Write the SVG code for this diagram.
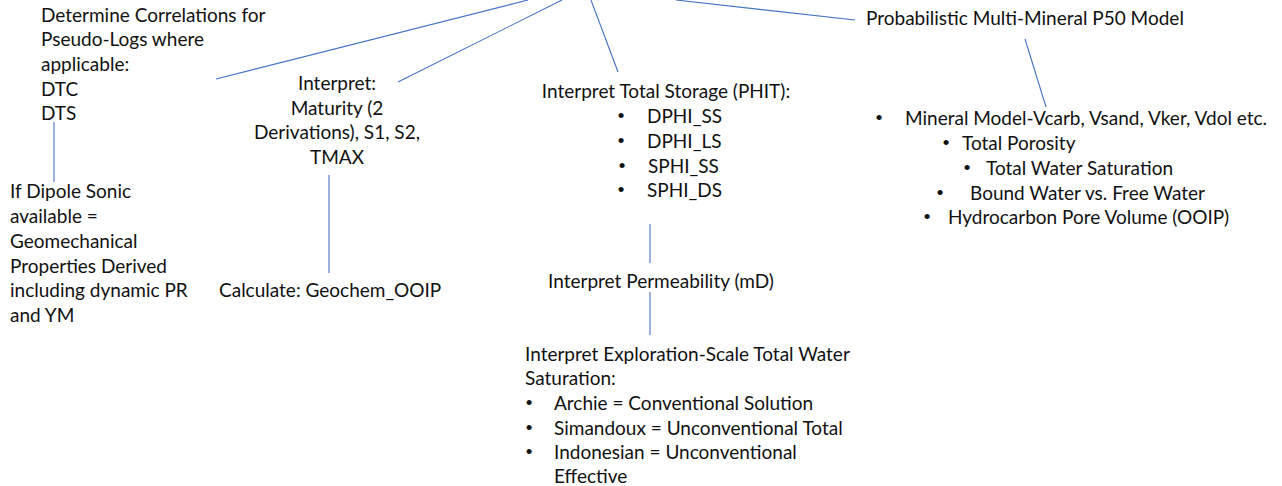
<svg xmlns="http://www.w3.org/2000/svg" width="1282" height="486" viewBox="0 0 1282 486">
  <style>
    .t { font-family: Lato, "Liberation Sans", sans-serif; font-size: 19px; fill: #111; }
    .c { text-anchor: middle; }
    .b { font-family: "Liberation Sans", sans-serif; font-size: 19px; fill: #111; text-anchor: middle; }
    .link { stroke: #4472c4; stroke-width: 1.1; fill: none; }
  </style>
  <rect width="1282" height="486" fill="#fff"/>

  <g id="connectors">
    <line class="link" x1="216" y1="79" x2="528" y2="0"/>
    <line class="link" x1="398" y1="82" x2="562" y2="0"/>
    <line class="link" x1="591" y1="0" x2="618" y2="72"/>
    <line class="link" x1="676" y1="0" x2="855" y2="20"/>
    <line class="link" x1="1025" y1="39" x2="1046" y2="107"/>
    <line class="link" x1="54" y1="122" x2="54" y2="182"/>
    <line class="link" x1="329" y1="175" x2="329" y2="273"/>
    <line class="link" x1="650" y1="224" x2="650" y2="263"/>
    <line class="link" x1="650" y1="292" x2="650" y2="335"/>
  </g>

  <g id="node-pseudo-logs">
    <text class="t" x="41" y="22">Determine Correlations for</text>
    <text class="t" x="41" y="46">Pseudo-Logs where</text>
    <text class="t" x="41" y="71">applicable:</text>
    <text class="t" x="41" y="96">DTC</text>
    <text class="t" x="41" y="120">DTS</text>
  </g>

  <g id="node-geomechanics">
    <text class="t" x="10" y="198">If Dipole Sonic</text>
    <text class="t" x="10" y="223">available =</text>
    <text class="t" x="10" y="248">Geomechanical</text>
    <text class="t" x="10" y="273">Properties Derived</text>
    <text class="t" x="10" y="297">including dynamic PR</text>
    <text class="t" x="10" y="322">and YM</text>
  </g>

  <g id="node-geochem">
    <text class="t c" x="337" y="90">Interpret:</text>
    <text class="t c" x="337" y="115">Maturity (2</text>
    <text class="t c" x="337" y="139">Derivations), S1, S2,</text>
    <text class="t c" x="337" y="164">TMAX</text>
  </g>

  <g id="node-geochem-ooip">
    <text class="t" x="219" y="297">Calculate: Geochem_OOIP</text>
  </g>

  <g id="node-storage">
    <text class="t c" x="666" y="98">Interpret Total Storage (PHIT):</text>
    <text class="b" x="621" y="122">•</text><text class="t" x="647" y="123">DPHI_SS</text>
    <text class="b" x="621" y="147">•</text><text class="t" x="647" y="148">DPHI_LS</text>
    <text class="b" x="622" y="172">•</text><text class="t" x="648" y="173">SPHI_SS</text>
    <text class="b" x="621" y="196">•</text><text class="t" x="647" y="197">SPHI_DS</text>
  </g>

  <g id="node-permeability">
    <text class="t c" x="661" y="288">Interpret Permeability (mD)</text>
  </g>

  <g id="node-water-saturation">
    <text class="t" x="525" y="361">Interpret Exploration-Scale Total Water</text>
    <text class="t" x="525" y="385">Saturation:</text>
    <text class="b" x="529" y="409">•</text><text class="t" x="554" y="410">Archie = Conventional Solution</text>
    <text class="b" x="529" y="434">•</text><text class="t" x="554" y="435">Simandoux = Unconventional Total</text>
    <text class="b" x="529" y="458">•</text><text class="t" x="554" y="459">Indonesian = Unconventional</text>
    <text class="t" x="554" y="483">Effective</text>
  </g>

  <g id="node-multimineral">
    <text class="t" x="866" y="25">Probabilistic Multi-Mineral P50 Model</text>
  </g>

  <g id="node-multimineral-outputs">
    <text class="b" x="879" y="124">•</text><text class="t" x="905" y="125">Mineral Model-Vcarb, Vsand, Vker, Vdol etc.</text>
    <text class="b" x="946" y="149">•</text><text class="t" x="962" y="150">Total Porosity</text>
    <text class="b" x="967" y="174">•</text><text class="t" x="986" y="175">Total Water Saturation</text>
    <text class="b" x="940" y="199">•</text><text class="t" x="970" y="200">Bound Water vs. Free Water</text>
    <text class="b" x="927" y="223">•</text><text class="t" x="948" y="224">Hydrocarbon Pore Volume (OOIP)</text>
  </g>
</svg>
